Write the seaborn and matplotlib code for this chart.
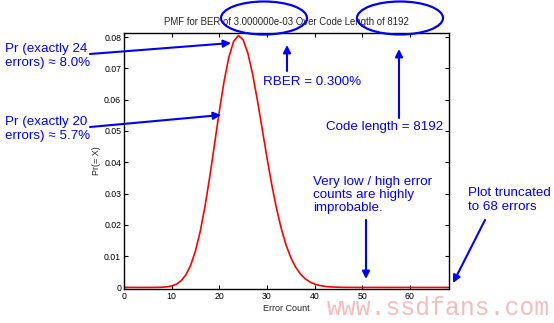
import matplotlib
matplotlib.use("Agg")
import matplotlib.pyplot as plt
import seaborn as sns
import pandas as pd
from matplotlib.patches import Ellipse

# ---- data ----
error_count = list(range(0, 69))
pmf = [0.0, 0.0, 0.0, 0.0, 0.0, 0.000002, 0.000008, 0.000026, 0.00007, 0.00019,
       0.00047, 0.00105, 0.00215, 0.00406, 0.00713, 0.01168, 0.01794, 0.02593, 0.03541, 0.04580,
       0.05628, 0.06586, 0.07357, 0.07860, 0.08050, 0.07913, 0.07480, 0.06808, 0.05976, 0.05064,
       0.04149, 0.03289, 0.02526, 0.01881, 0.01360, 0.00955, 0.00652, 0.00433, 0.00280, 0.00176,
       0.00108, 0.00065, 0.00038, 0.00022, 0.00012, 0.00007, 0.00004, 0.00002, 0.00001, 0.0,
       0.0, 0.0, 0.0, 0.0, 0.0, 0.0, 0.0, 0.0, 0.0, 0.0,
       0.0, 0.0, 0.0, 0.0, 0.0, 0.0, 0.0, 0.0, 0.0]
x_ticks = [0, 10, 20, 30, 40, 50, 60]
y_ticks = [0, 0.01, 0.02, 0.03, 0.04, 0.05, 0.06, 0.07, 0.08]
y_ticklabels = ["0", "0.01", "0.02", "0.03", "0.04", "0.05", "0.06", "0.07", "0.08"]
title = "PMF for BER of 3.000000e-03 Over Code Length of 8192"

df = pd.DataFrame({"Error Count": error_count, "Pr": pmf})

sns.set_theme(style="white")
plt.rcParams["font.family"] = ["Liberation Sans", "DejaVu Sans"]

W, H = 554, 323
fig = plt.figure(figsize=(W / 100, H / 100), dpi=100)
ax = fig.add_axes([124 / W, 1 - 289 / H, (449 - 124) / W, (289 - 33) / H])

sns.lineplot(data=df, x="Error Count", y="Pr", color="red", lw=1.2, ax=ax)

ax.set_xlim(0, 68.2)
ax.set_ylim(-0.0005, 0.0813)
ax.set_xticks(x_ticks)
ax.set_yticks(y_ticks)
ax.set_yticklabels(y_ticklabels)
ax.tick_params(direction="in", length=3, width=0.8, labelsize=6.3, colors="black",
               top=True, right=True, bottom=True, left=True, pad=2)
for s in ax.spines.values():
    s.set_visible(True)
    s.set_color("black")
    s.set_linewidth(1.0)
ax.set_xlabel("Error Count", fontsize=6.5, labelpad=2)
ax.set_ylabel("Pr(= X)", fontsize=6.5, labelpad=2)
ax.set_title(title, fontsize=6.9, pad=6)
ax.grid(False)

blue = "#0000ff"


def fp(x, y):
    return (x / W, 1 - y / H)


def arrow(start, tip):
    ax.annotate("", xy=fp(*tip), xycoords="figure fraction",
                xytext=fp(*start), textcoords="figure fraction",
                arrowprops=dict(arrowstyle="-|>", color=blue, lw=1.5,
                                mutation_scale=11, shrinkA=0, shrinkB=0),
                annotation_clip=False)


fs = 9.6
fig.text(*fp(5, 56), "Pr (exactly 24\nerrors) \u2248 8.0%", color=blue, fontsize=fs,
         ha="left", va="center", linespacing=1.15)
arrow((90, 54), (231, 43))
fig.text(*fp(5, 129), "Pr (exactly 20\nerrors) \u2248 5.7%", color=blue, fontsize=fs,
         ha="left", va="center", linespacing=1.15)
arrow((90, 127), (221, 115))

fig.text(*fp(263, 82), "RBER = 0.300%", color=blue, fontsize=fs, ha="left", va="center")
arrow((287, 71), (287, 45))
fig.text(*fp(326, 127), "Code length = 8192", color=blue, fontsize=fs, ha="left", va="center")
arrow((399, 118), (399, 49))

fig.text(*fp(313, 195), "Very low / high error\ncounts are highly\nimprobable.", color=blue,
         fontsize=fs, ha="left", va="center", linespacing=1.15)
arrow((366, 220), (366, 279))
fig.text(*fp(468, 200), "Plot truncated\nto 68 errors", color=blue,
         fontsize=fs, ha="left", va="center", linespacing=1.15)
arrow((485, 220), (453, 283))

for cx, cy in [(264, 18), (400, 18)]:
    e = Ellipse(fp(cx, cy), 86 / W, 33 / H, transform=fig.transFigure,
                fill=False, edgecolor=blue, lw=1.6)
    fig.add_artist(e)

fig.text(*fp(327, 315), "www.ssdfans.com", color="#f5bcbc", fontsize=17.8,
         family="Liberation Mono", ha="left", va="baseline")

fig.savefig("out.png", dpi=100, facecolor="white")
